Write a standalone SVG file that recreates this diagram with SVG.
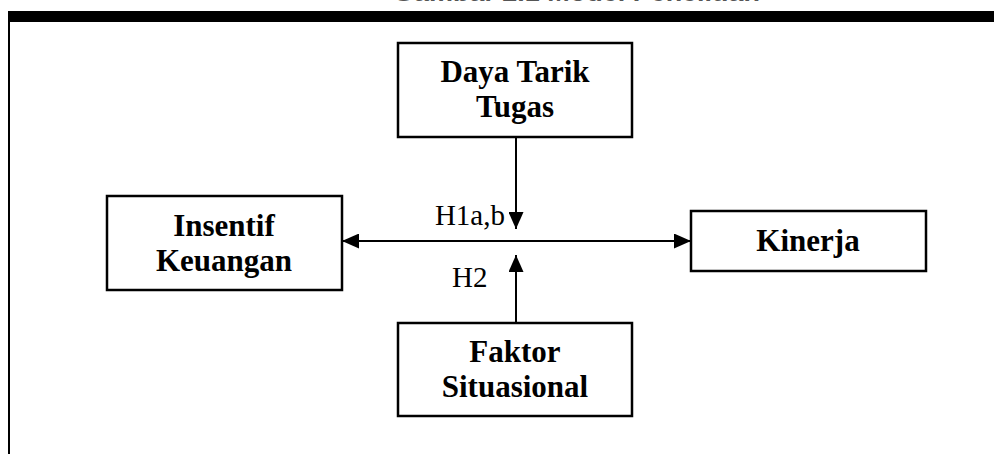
<svg xmlns="http://www.w3.org/2000/svg" width="994" height="454" viewBox="0 0 994 454">
<style>
.box{fill:#fff;stroke:#000;stroke-width:2.5}
.lbl{font-family:"Liberation Serif","Times New Roman",serif;font-weight:bold;font-size:31px;text-anchor:middle;fill:#000}
.hyp{font-family:"Liberation Serif","Times New Roman",serif;font-size:29px;fill:#000}
.con{stroke:#000;stroke-width:2;fill:none}
</style>
<defs>
<marker id="ah" viewBox="0 0 17 15" refX="17" refY="7.5" markerWidth="17" markerHeight="15" markerUnits="userSpaceOnUse" orient="auto-start-reverse">
<path d="M0,0 L17,7.5 L0,15 z" fill="#000"/>
</marker>
</defs>
<rect width="994" height="454" fill="#fff"/>
<g id="frame">
<text x="393" y="1" font-family="Liberation Sans, Arial, sans-serif" font-weight="bold" font-size="24" fill="#555" textLength="367" lengthAdjust="spacingAndGlyphs">Gambar 2.1 Model Penelitian</text>
<rect x="8" y="11" width="986" height="11" fill="#000"/>
<rect x="8" y="11" width="2" height="443" fill="#000"/>
</g>
<g id="connectors">
<line class="con" x1="516" y1="137" x2="516" y2="229" marker-end="url(#ah)"/>
<line class="con" x1="516" y1="323" x2="516" y2="255" marker-end="url(#ah)"/>
<line class="con" x1="342" y1="241" x2="691" y2="241" marker-start="url(#ah)" marker-end="url(#ah)"/>
<text class="hyp" x="505" y="225" text-anchor="end">H1a,b</text>
<text class="hyp" x="452" y="287">H2</text>
</g>
<g id="node-daya-tarik-tugas">
<rect class="box" x="398" y="43" width="234" height="94"/>
<text class="lbl" x="515" y="82">Daya Tarik</text>
<text class="lbl" x="515" y="117">Tugas</text>
</g>
<g id="node-insentif-keuangan">
<rect class="box" x="107" y="196" width="235" height="94"/>
<text class="lbl" x="224" y="236">Insentif</text>
<text class="lbl" x="224" y="271">Keuangan</text>
</g>
<g id="node-kinerja">
<rect class="box" x="691" y="211" width="235" height="60"/>
<text class="lbl" x="808" y="251">Kinerja</text>
</g>
<g id="node-faktor-situasional">
<rect class="box" x="398" y="323" width="234" height="93"/>
<text class="lbl" x="515" y="362">Faktor</text>
<text class="lbl" x="515" y="397">Situasional</text>
</g>
</svg>
